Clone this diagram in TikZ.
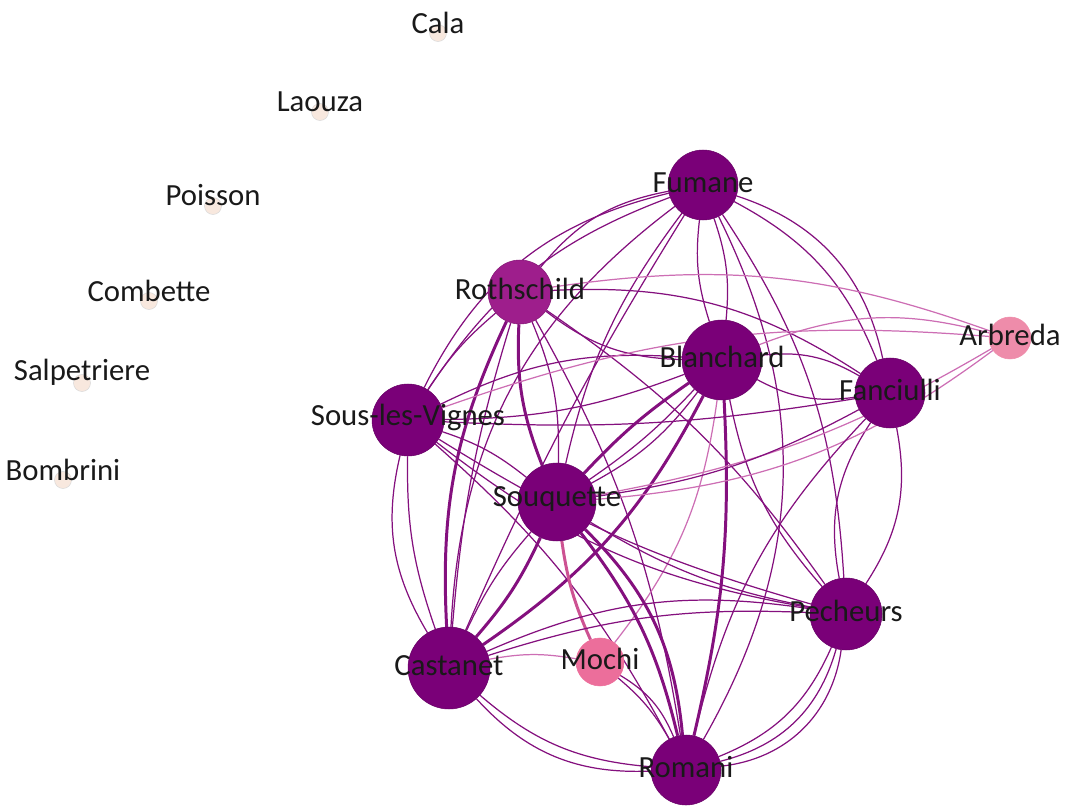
\documentclass[tikz,border=0pt]{standalone}
\usepackage{fontspec}
\setmainfont{Carlito}
\usetikzlibrary{backgrounds}

\definecolor{hubpurple}{RGB}{122,0,120}
\definecolor{rothpurple}{RGB}{158,30,140}
\definecolor{linkpurple}{RGB}{132,16,126}
\definecolor{arbpink}{RGB}{238,140,170}
\definecolor{mochipink}{RGB}{236,110,155}
\definecolor{palelink}{RGB}{205,110,180}
\definecolor{isofill}{RGB}{248,232,222}

\begin{document}
\begin{tikzpicture}[
    x=0.02cm, y=-0.02cm,
    hub/.style={
        circle,
        fill=hubpurple,
        draw=hubpurple!85!black,
        line width=0.3pt,
        inner sep=0pt
    },
    isolated/.style={
        circle,
        fill=isofill,
        draw=black!15,
        line width=0.3pt,
        inner sep=0pt,
        minimum size=0.34cm
    },
    sitelabel/.style={
        font=\fontsize{17.5}{20}\selectfont,
        text=black!90,
        yshift=1.5pt
    },
    isolabel/.style={
        sitelabel,
        yshift=4.5pt
    },
    link/.style={
        draw=linkpurple,
        line width=0.7pt
    },
    heavylink/.style={
        draw=linkpurple,
        line width=1.7pt
    },
    softlink/.style={
        draw=palelink,
        line width=0.7pt
    }
]

\useasboundingbox (0,0) rectangle (1067,810);

% Sites isoles
\node[isolated, label={[isolabel]center:Cala}] (cala) at (438,33) {};
\node[isolated, label={[isolabel]center:Laouza}] (laouza) at (320,112) {};
\node[isolated, label={[isolabel]center:Poisson}] (poisson) at (213,206) {};
\node[isolated, label={[isolabel]center:Combette}] (combette) at (149,301) {};
\node[isolated, label={[isolabel]center:Salpetriere}] (salpetriere) at (82,383) {};
\node[isolated, label={[isolabel]center:Bombrini}] (bombrini) at (63,480) {};

% Sites du reseau
\node[hub, minimum size=1.40cm, label={[sitelabel]center:Fumane}] (fumane) at (703,185) {};
\node[hub, fill=rothpurple, draw=rothpurple!85!black, minimum size=1.28cm, label={[sitelabel]center:Rothschild}] (rothschild) at (520,292) {};
\node[hub, minimum size=1.60cm, label={[sitelabel]center:Blanchard}] (blanchard) at (722,360) {};
\node[hub, minimum size=1.40cm, label={[sitelabel]center:Fanciulli}] (fanciulli) at (890,393) {};
\node[hub, fill=arbpink, draw=arbpink, minimum size=0.84cm, label={[sitelabel]center:Arbreda}] (arbreda) at (1010,338) {};
\node[hub, minimum size=1.44cm, label={[sitelabel]center:Sous-les-Vignes}] (sousvignes) at (408,420) {};
\node[hub, minimum size=1.56cm, label={[sitelabel]center:Souquette}] (souquette) at (557,502) {};
\node[hub, minimum size=1.44cm, label={[sitelabel]center:Pecheurs}] (pecheurs) at (846,614) {};
\node[hub, minimum size=1.64cm, label={[sitelabel]center:Castanet}] (castanet) at (449,668) {};
\node[hub, fill=mochipink, draw=mochipink, minimum size=0.96cm, label={[sitelabel]center:Mochi}] (mochi) at (600,662) {};
\node[hub, minimum size=1.40cm, label={[sitelabel]center:Romani}] (romani) at (686,770) {};

% Liens (sous les sites)
\begin{scope}[on background layer]
% contour
\draw[link] (fumane) to[bend right=25] (sousvignes);
\draw[link] (fumane) to[bend right=18] (sousvignes);
\draw[link] (fumane) to[bend right=25] (castanet);
\draw[link] (sousvignes) to[bend right=22] (castanet);
\draw[link] (sousvignes) to[bend right=10] (castanet);
\draw[link] (castanet) to[bend right=25] (romani);
\draw[link] (castanet) to[bend right=18] (romani);
\draw[link] (romani) to[bend right=22] (pecheurs);
\draw[link] (romani) to[bend right=30] (pecheurs);
\draw[link] (romani) to[bend right=38] (pecheurs);
\draw[link] (pecheurs) to[bend right=22] (fanciulli);
\draw[link] (fanciulli) to[bend right=22] (pecheurs);
\draw[link] (fanciulli) to[bend right=20] (fumane);
\draw[link] (fanciulli) to[bend right=30] (fumane);

% depuis Fumane
\draw[link] (fumane) to[bend right=20] (rothschild);
\draw[link] (fumane) to[bend right=12] (blanchard);
\draw[link] (blanchard) to[bend right=12] (fumane);
\draw[link] (fumane) to[bend right=12] (souquette);
\draw[link] (fumane) to[bend right=4] (castanet);
\draw[link] (romani) to[bend right=28] (fumane);
\draw[link] (pecheurs) to[bend right=15] (fumane);

% depuis Rothschild
\draw[link] (fanciulli) to[bend right=18] (rothschild);
\draw[link] (rothschild) to[bend right=18] (blanchard);
\draw[heavylink] (rothschild) to[bend right=12] (souquette);
\draw[link] (souquette) to[bend right=12] (rothschild);
\draw[heavylink] (rothschild) to[bend right=14] (castanet);
\draw[link] (rothschild) to[bend right=6] (castanet);
\draw[link] (rothschild) to[bend right=8] (sousvignes);
\draw[link] (pecheurs) to[bend right=10] (rothschild);
\draw[link] (romani) to[bend right=10] (rothschild);

% depuis Blanchard
\draw[heavylink] (blanchard) to[bend right=6] (souquette);
\draw[link] (souquette) to[bend right=6] (blanchard);
\draw[link] (souquette) to[bend right=12] (blanchard);
\draw[heavylink] (castanet) to[bend right=14] (blanchard);
\draw[heavylink] (romani) to[bend right=8] (blanchard);
\draw[link] (blanchard) to[bend right=15] (pecheurs);
\draw[link] (blanchard) to[bend right=18] (fanciulli);
\draw[link] (fanciulli) to[bend right=18] (blanchard);
\draw[link] (blanchard) to[bend right=15] (sousvignes);
\draw[link] (sousvignes) to[bend right=10] (blanchard);
\draw[softlink] (mochi) to[bend right=15] (blanchard);

% Arbreda
\draw[softlink] (arbreda) to[bend right=18] (blanchard);
\draw[softlink] (arbreda) to[bend right=14] (rothschild);
\draw[softlink] (arbreda) to[bend right=12] (sousvignes);
\draw[softlink] (souquette) to[bend right=10] (arbreda);
\draw[softlink] (souquette) to[bend right=16] (arbreda);

% depuis Fanciulli
\draw[link] (souquette) to[bend right=10] (fanciulli);
\draw[link] (sousvignes) to[bend right=6] (fanciulli);
\draw[link] (fanciulli) to[bend right=15] (romani);

% depuis Sous-les-Vignes
\draw[link] (souquette) to[bend right=10] (sousvignes);
\draw[link] (sousvignes) to[bend right=14] (pecheurs);
\draw[link] (sousvignes) to[bend right=8] (pecheurs);
\draw[link] (romani) to[bend right=10] (sousvignes);

% depuis Souquette
\draw[heavylink] (castanet) to[bend right=8] (souquette);
\draw[link] (souquette) to[bend right=8] (castanet);
\draw[heavylink] (romani) to[bend right=12] (souquette);
\draw[heavylink] (romani) to[bend right=20] (souquette);
\draw[link] (souquette) to[bend right=10] (pecheurs);
\draw[heavylink, draw=mochipink!70!linkpurple] (souquette) to[bend right=8] (mochi);

% Castanet, Mochi, Pecheurs
\draw[link] (pecheurs) to[bend right=10] (castanet);
\draw[link] (pecheurs) to[bend right=16] (castanet);
\draw[softlink] (mochi) to[bend right=10] (castanet);
\draw[link] (romani) to[bend right=10] (mochi);
\draw[link] (romani) to[bend right=18] (mochi);
\end{scope}

\end{tikzpicture}
\end{document}
